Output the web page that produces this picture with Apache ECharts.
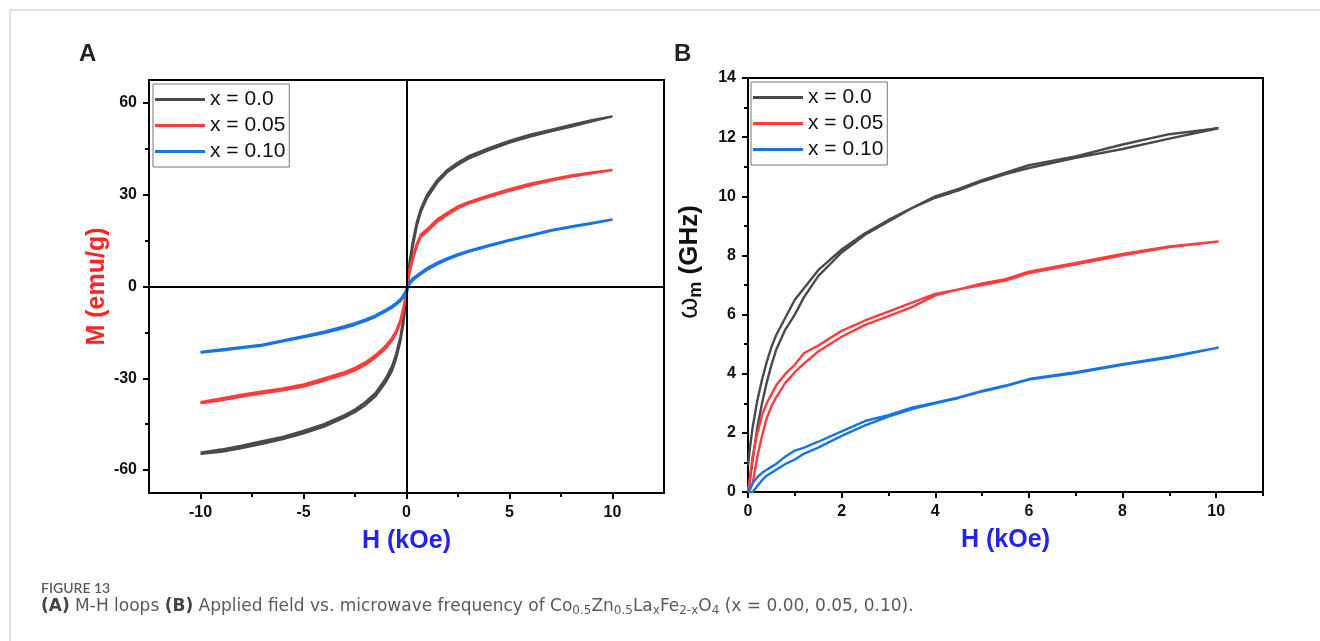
<!DOCTYPE html>
<html><head><meta charset="utf-8">
<script src="https://cdn.jsdelivr.net/npm/echarts@6/dist/echarts.min.js"></script>
<style>html,body{margin:0;padding:0;background:#fff}#c{width:1320px;height:641px}</style>
</head><body><div id="c"></div>
<script>
// ---------- data ----------
const seriesNames = ['x = 0.0', 'x = 0.05', 'x = 0.10'];
const seriesColors = ['#4a4a4a', '#ff3c3c', '#1873e6'];

// Panel A: M-H loops (H in kOe, M in emu/g)
const H_A = [-10, -9, -8, -7, -6, -5, -4, -3, -2.5, -2, -1.5, -1, -0.7, -0.5, -0.3, -0.15, 0, 0.15, 0.3, 0.5, 0.7, 1, 1.5, 2, 2.5, 3, 4, 5, 6, 7, 8, 9, 10];
const M00_asc  = [-54.7, -54.0, -52.8, -51.4, -49.9, -48.0, -45.8, -42.8, -41.0, -38.8, -35.8, -31.2, -27.5, -23.5, -18.0, -12.0, -3.5, 6.5, 13.0, 19.8, 24.5, 29.0, 34.0, 37.5, 39.8, 41.8, 44.6, 47.0, 49.0, 50.7, 52.3, 54.0, 55.6];
const M00_desc = [-54.3, -53.3, -52.0, -50.6, -49.2, -47.2, -45.0, -42.0, -40.2, -37.8, -34.8, -30.0, -26.0, -22.0, -16.5, -10.5, -2.0, 8.0, 14.5, 21.0, 25.5, 30.0, 34.8, 38.2, 40.5, 42.5, 45.2, 47.6, 49.6, 51.2, 52.8, 54.4, 55.8];
const M05_asc  = [-38.2, -37.2, -36.0, -34.9, -33.9, -32.7, -30.8, -28.7, -27.4, -25.6, -23.2, -20.2, -17.6, -15.3, -11.8, -7.8, -2.4, 4.6, 8.6, 13.2, 16.3, 18.0, 21.2, 23.5, 25.6, 27.1, 29.3, 31.3, 33.1, 34.6, 35.9, 37.0, 38.1];
const M05_desc = [-37.8, -36.6, -35.4, -34.3, -33.3, -32.0, -30.0, -28.0, -26.6, -24.8, -22.4, -19.3, -16.8, -14.5, -11.0, -7.0, -1.5, 5.5, 9.5, 14.0, 17.0, 18.7, 22.0, 24.2, 26.2, 27.6, 29.8, 31.8, 33.6, 35.0, 36.3, 37.3, 38.3];
const M10_asc  = [-21.6, -20.9, -20.1, -19.3, -17.9, -16.6, -15.2, -13.5, -12.5, -11.3, -9.9, -8.1, -6.9, -5.9, -4.8, -3.5, -1.8, 0.8, 2.0, 3.1, 4.1, 5.5, 7.3, 8.9, 10.2, 11.3, 13.2, 15.0, 16.6, 18.2, 19.4, 20.6, 21.9];
const M10_desc = [-21.4, -20.6, -19.8, -19.0, -17.6, -16.2, -14.8, -13.0, -12.0, -10.8, -9.4, -7.6, -6.4, -5.4, -4.2, -2.8, -1.0, 1.5, 2.6, 3.6, 4.6, 6.0, 7.8, 9.3, 10.6, 11.6, 13.5, 15.2, 16.8, 18.4, 19.6, 20.8, 22.0];

// Panel B: applied field vs microwave frequency (H in kOe, omega_m in GHz)
const H_B = [0, 0.05, 0.1, 0.2, 0.3, 0.4, 0.5, 0.6, 0.8, 1, 1.2, 1.5, 2, 2.5, 3, 3.5, 4, 4.5, 5, 5.5, 6, 7, 8, 9, 10.05];
const W00_up = [0.9, 1.6, 2.2, 3.1, 3.8, 4.4, 4.9, 5.3, 5.9, 6.5, 6.9, 7.5, 8.2, 8.75, 9.2, 9.6, 10.0, 10.25, 10.55, 10.8, 11.05, 11.35, 11.75, 12.1, 12.3];
const W00_lo = [0, 0.5, 1.1, 2.2, 3.0, 3.7, 4.3, 4.8, 5.5, 6.0, 6.6, 7.3, 8.1, 8.7, 9.15, 9.6, 9.95, 10.2, 10.5, 10.75, 10.95, 11.3, 11.6, 11.95, 12.3];
const W05_up = [0, 0.6, 1.2, 2.0, 2.6, 3.0, 3.3, 3.6, 4.0, 4.3, 4.7, 4.95, 5.45, 5.8, 6.1, 6.4, 6.7, 6.85, 7.05, 7.2, 7.45, 7.75, 8.05, 8.3, 8.47];
const W05_lo = [0, 0.1, 0.3, 1.2, 1.9, 2.5, 2.9, 3.2, 3.7, 4.05, 4.35, 4.75, 5.25, 5.65, 5.95, 6.25, 6.65, 6.85, 7.0, 7.15, 7.4, 7.7, 8.0, 8.28, 8.45];
const W10_up = [0, 0.15, 0.3, 0.5, 0.65, 0.75, 0.85, 0.95, 1.2, 1.4, 1.5, 1.7, 2.05, 2.4, 2.6, 2.85, 3.02, 3.2, 3.42, 3.6, 3.82, 4.05, 4.32, 4.58, 4.88];
const W10_lo = [0, 0, 0, 0.2, 0.4, 0.55, 0.65, 0.75, 0.95, 1.1, 1.3, 1.5, 1.9, 2.25, 2.55, 2.8, 3.0, 3.18, 3.4, 3.58, 3.8, 4.02, 4.3, 4.55, 4.85];

// tick values
const A_xMajor = [-10, -5, 0, 5, 10];
const A_xMinor = [-7.5, -2.5, 2.5, 7.5];
const A_yMajor = [-60, -30, 0, 30, 60];
const A_yMinor = [-45, -15, 15, 45];
const B_xMajor = [0, 2, 4, 6, 8, 10];
const B_xMinor = [1, 3, 5, 7, 9, 11];
const B_yMajor = [0, 2, 4, 6, 8, 10, 12, 14];
const B_yMinor = [1, 3, 5, 7, 9, 11, 13];

// ---------- build ----------
function loop(h, first, second) {
  const a = h.map((v, i) => [v, first[i]]);
  const b = h.map((v, i) => [v, second[i]]).reverse();
  return a.concat(b);
}
const FONT = "'Liberation Sans', Arial, sans-serif";
const CAPFONT = "'DejaVu Sans', sans-serif";
const labelStyle = { fontSize: 16, fontWeight: 'bold', color: '#111', fontFamily: FONT };

function mainAxis(grid, min, max, major, pos, extra) {
  return Object.assign({
    gridIndex: grid, type: 'value', min: min, max: max, position: pos,
    axisLine: { show: true, onZero: false, lineStyle: { color: '#000', width: 2 } },
    axisTick: { show: true, inside: false, length: 6, customValues: major, lineStyle: { color: '#000', width: 2 } },
    axisLabel: Object.assign({ customValues: major, margin: 12 }, labelStyle),
    splitLine: { show: false }, minorTick: { show: false }
  }, extra || {});
}
function minorAxis(grid, min, max, minor, pos) {
  return {
    gridIndex: grid, type: 'value', min: min, max: max, position: pos,
    axisLine: { show: false, onZero: false },
    axisTick: { show: true, inside: false, length: 4, customValues: minor, lineStyle: { color: '#000', width: 2 } },
    axisLabel: { show: false }, splitLine: { show: false }
  };
}
const hTitle = { name: 'H (kOe)', nameLocation: 'middle', nameGap: 36,
  nameTextStyle: { fontSize: 25, fontWeight: 'bold', color: '#2323f0', fontFamily: FONT } };

const xAxes = [
  mainAxis(0, -12.5, 12.5, A_xMajor, 'bottom', hTitle),
  minorAxis(0, -12.5, 12.5, A_xMinor, 'bottom'),
  mainAxis(1, 0, 11, B_xMajor, 'bottom', hTitle),
  minorAxis(1, 0, 11, B_xMinor, 'bottom')
];
const yAxes = [
  mainAxis(0, -67.5, 67.5, A_yMajor, 'left', { name: 'M (emu/g)', nameLocation: 'middle', nameGap: 39,
    nameTextStyle: { fontSize: 25, fontWeight: 'bold', color: '#ff2525', fontFamily: FONT } }),
  minorAxis(0, -67.5, 67.5, A_yMinor, 'left'),
  mainAxis(1, 0, 14, B_yMajor, 'left', { name: '{w|ω}{s|m} (GHz)', nameLocation: 'middle', nameGap: 43,
    nameTextStyle: { fontSize: 26, fontWeight: 'bold', color: '#111', fontFamily: FONT, padding: [0, 0, 0, 46],
      rich: { w: { fontSize: 27, fontWeight: 'normal', color: '#111', fontFamily: FONT },
              s: { fontSize: 18, fontWeight: 'bold', color: '#111', fontFamily: FONT, padding: [12, 0, 0, 0] } } } }),
  minorAxis(1, 0, 14, B_yMinor, 'left')
];

const dataA = [loop(H_A, M00_asc, M00_desc), loop(H_A, M05_asc, M05_desc), loop(H_A, M10_asc, M10_desc)];
const dataB = [loop(H_B, W00_up, W00_lo), loop(H_B, W05_up, W05_lo), loop(H_B, W10_up, W10_lo)];

const series = [{
  type: 'line', xAxisIndex: 0, yAxisIndex: 0, data: [], z: 1, silent: true,
  markLine: { silent: true, symbol: ['none', 'none'], label: { show: false },
    lineStyle: { color: '#000', width: 2, type: 'solid' }, emphasis: { disabled: true },
    data: [{ xAxis: 0 }, { yAxis: 0 }] }
}];
[0, 1].forEach(p => {
  seriesNames.forEach((n, i) => {
    series.push({
      name: n, type: 'line', xAxisIndex: p * 2, yAxisIndex: p * 2,
      data: p === 0 ? dataA[i] : dataB[i], showSymbol: false, symbol: 'none',
      color: seriesColors[i], lineStyle: { width: 2.4, color: seriesColors[i] },
      z: 3, animation: false
    });
  });
});

const legendBase = {
  data: seriesNames, orient: 'vertical', icon: 'rect', itemWidth: 50, itemHeight: 3, itemGap: 5,
  padding: [5, 4, 5, 2], borderColor: '#777', borderWidth: 1, backgroundColor: '#fff',
  selectedMode: false, textStyle: { fontSize: 21, color: '#111', fontFamily: FONT }
};

const chart = echarts.init(document.getElementById('c'), null, { renderer: 'canvas' });
chart.setOption({
  animation: false,
  backgroundColor: '#fff',
  grid: [
    { left: 149, top: 80, width: 515, height: 413, show: true, borderColor: '#000', borderWidth: 2, backgroundColor: 'transparent' },
    { left: 748, top: 78, width: 515, height: 414, show: true, borderColor: '#000', borderWidth: 2, backgroundColor: 'transparent' }
  ],
  xAxis: xAxes,
  yAxis: yAxes,
  legend: [
    Object.assign({}, legendBase, { left: 153, top: 84 }),
    Object.assign({}, legendBase, { left: 751, top: 82 })
  ],
  series: series,
  graphic: [
    { type: 'rect', shape: { x: 10, y: 10, width: 1400, height: 700 }, style: { fill: 'none', stroke: '#d9d9d9', lineWidth: 1.5 }, silent: true, z: -1 },
    { type: 'text', left: 79, top: 42, style: { text: 'A', fontSize: 24, fontWeight: 'bold', fill: '#222', fontFamily: FONT } },
    { type: 'text', left: 674, top: 42, style: { text: 'B', fontSize: 24, fontWeight: 'bold', fill: '#222', fontFamily: FONT } },
    { type: 'text', left: 41, top: 581, style: { text: 'FIGURE 13', fontSize: 14, fontWeight: 600, fill: '#5a5a5a', fontFamily: "Lato, 'Open Sans', sans-serif" } },
    { type: 'text', left: 41, top: 598, style: {
      text: '{b|(A)} M-H loops {b|(B)} Applied field vs. microwave frequency of Co{s|0.5}Zn{s|0.5}La{s|x}Fe{s|2-x}O{s|4} (x = 0.00, 0.05, 0.10).',
      fontSize: 17, fill: '#5a5a5a', fontFamily: CAPFONT,
      rich: {
        b: { fontSize: 17, fontWeight: 'bold', fill: '#444', fontFamily: CAPFONT },
        s: { fontSize: 12, fill: '#5a5a5a', fontFamily: CAPFONT, padding: [9, 0, 0, 0] }
      } } }
  ]
});
</script></body></html>
